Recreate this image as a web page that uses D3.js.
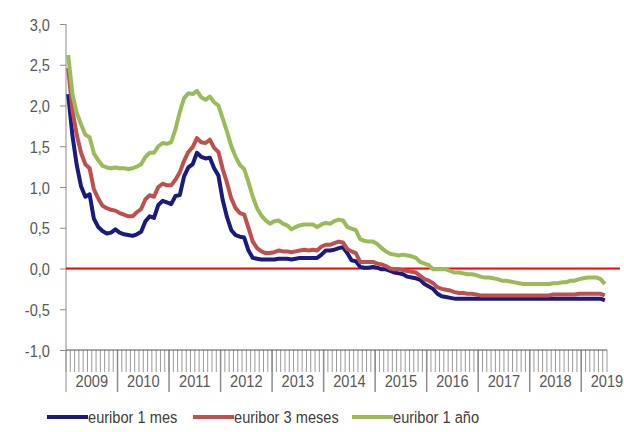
<!DOCTYPE html>
<html>
<head>
<meta charset="utf-8">
<script src="https://cdn.jsdelivr.net/npm/d3@7"></script>
<style>
  body { margin: 0; background: #fff; }
  text { font-family: "Liberation Sans", Arial, sans-serif; }
</style>
</head>
<body>
<svg id="svg" width="624" height="432"></svg>
<script>
// monthly averages, jan 2009 .. jun 2019
var years = [2009, 2010, 2011, 2012, 2013, 2014, 2015, 2016, 2017, 2018, 2019];
var yTicks = [-1, -0.5, 0, 0.5, 1, 1.5, 2, 2.5, 3];

var euribor1m = [
  2.14, 1.63, 1.27, 1.01, 0.88, 0.91, 0.61, 0.51, 0.46, 0.43, 0.44, 0.48,
  0.44, 0.42, 0.41, 0.40, 0.42, 0.45, 0.58, 0.64, 0.62, 0.78, 0.83, 0.81,
  0.79, 0.89, 0.90, 1.13, 1.24, 1.28, 1.42, 1.37, 1.35, 1.36, 1.23, 1.14,
  0.84, 0.63, 0.47, 0.41, 0.39, 0.38, 0.22, 0.13, 0.12, 0.11, 0.11, 0.11,
  0.11, 0.12, 0.12, 0.12, 0.11, 0.12, 0.13, 0.13, 0.13, 0.13, 0.13, 0.17,
  0.22, 0.22, 0.23, 0.25, 0.26, 0.19, 0.10, 0.09, 0.02, 0.01, 0.01, 0.02,
  0.01, -0.01, -0.01, -0.03, -0.05, -0.06, -0.07, -0.10, -0.11, -0.12, -0.14, -0.19,
  -0.22, -0.25, -0.31, -0.34, -0.35, -0.36, -0.37, -0.37, -0.37, -0.37, -0.37, -0.37,
  -0.37, -0.37, -0.37, -0.37, -0.37, -0.37, -0.37, -0.37, -0.37, -0.37, -0.37, -0.37,
  -0.37, -0.37, -0.37, -0.37, -0.37, -0.37, -0.37, -0.37, -0.37, -0.37, -0.37, -0.37,
  -0.37, -0.37, -0.37, -0.37, -0.37, -0.39
];

var euribor3m = [
  2.46, 1.94, 1.64, 1.42, 1.28, 1.23, 0.97, 0.86, 0.77, 0.74, 0.72, 0.71,
  0.68, 0.66, 0.64, 0.64, 0.69, 0.73, 0.85, 0.90, 0.88, 1.00, 1.04, 1.02,
  1.02, 1.09, 1.18, 1.32, 1.43, 1.49, 1.60, 1.55, 1.54, 1.58, 1.48, 1.43,
  1.22, 1.05, 0.86, 0.74, 0.68, 0.66, 0.50, 0.33, 0.25, 0.21, 0.19, 0.19,
  0.20, 0.22, 0.21, 0.21, 0.20, 0.21, 0.22, 0.23, 0.22, 0.23, 0.22, 0.27,
  0.29, 0.29, 0.31, 0.33, 0.32, 0.24, 0.21, 0.19, 0.08, 0.08, 0.08, 0.08,
  0.06, 0.05, 0.03, 0.00, -0.01, -0.01, -0.02, -0.03, -0.04, -0.05, -0.09, -0.13,
  -0.15, -0.18, -0.23, -0.25, -0.26, -0.27, -0.29, -0.30, -0.30, -0.31, -0.31, -0.32,
  -0.33, -0.33, -0.33, -0.33, -0.33, -0.33, -0.33, -0.33, -0.33, -0.33, -0.33, -0.33,
  -0.33, -0.33, -0.33, -0.33, -0.33, -0.32, -0.32, -0.32, -0.32, -0.32, -0.32, -0.31,
  -0.31, -0.31, -0.31, -0.31, -0.31, -0.33
];

var euribor12m = [
  2.62, 2.14, 1.91, 1.77, 1.64, 1.61, 1.41, 1.33, 1.26, 1.24, 1.23, 1.24,
  1.23, 1.23, 1.22, 1.23, 1.25, 1.28, 1.37, 1.42, 1.42, 1.50, 1.54, 1.53,
  1.55, 1.71, 1.92, 2.09, 2.15, 2.14, 2.18, 2.10, 2.07, 2.11, 2.04, 2.00,
  1.84, 1.68, 1.50, 1.37, 1.27, 1.22, 1.06, 0.88, 0.74, 0.65, 0.59, 0.55,
  0.58, 0.59, 0.55, 0.53, 0.48, 0.51, 0.53, 0.54, 0.54, 0.54, 0.51, 0.54,
  0.56, 0.55, 0.58, 0.60, 0.59, 0.51, 0.49, 0.47, 0.36, 0.34, 0.33, 0.33,
  0.30, 0.25, 0.21, 0.18, 0.17, 0.16, 0.17, 0.16, 0.15, 0.13, 0.08, 0.06,
  0.04, -0.01, -0.01, -0.01, -0.01, -0.03, -0.05, -0.05, -0.06, -0.07, -0.07, -0.08,
  -0.10, -0.11, -0.11, -0.12, -0.13, -0.15, -0.15, -0.16, -0.17, -0.18, -0.19, -0.19,
  -0.19, -0.19, -0.19, -0.19, -0.19, -0.18, -0.18, -0.17, -0.17, -0.15, -0.15, -0.13,
  -0.12, -0.11, -0.11, -0.11, -0.13, -0.19
];

var seriesNames = ["euribor 1 mes", "euribor 3 meses", "euribor 1 año"];
var seriesColors = ["#1a1a82", "#c0504d", "#9bbb59"];
var series = [euribor1m, euribor3m, euribor12m];

var nMonths = euribor1m.length;
var squeeze = 0.86; // the original font is a narrow one
var svg = d3.select("#svg");

var x = d3.scaleLinear()
  .domain([0, nMonths])
  .range([66, 607]);

var y = d3.scaleLinear()
  .domain([-1, 3])
  .range([350, 24]);

var fmt = v => d3.format(".1f")(v).replace(".", ",").replace("−", "-");

// put a text at (px,py), squeezed sideways
var place = function(sel, px, py) {
  sel.attr("x", 0).attr("y", 0)
    .attr("transform", (d, i) => "translate(" + px(d, i) + "," + py(d, i) + ") scale(" + squeeze + ",1)");
};

// y axis
var yAxis = svg.append("g")
    .attr("transform", "translate(66,0)")
    .call(d3.axisLeft(y).tickValues(yTicks).tickSize(6).tickFormat(fmt));
yAxis.select(".domain").remove();
yAxis.selectAll("line").attr("stroke", "#8c8c8c");
yAxis.selectAll("text")
    .attr("fill", "#5a5a5a")
    .attr("dy", null)
    .style("font-size", "17px")
    .call(place, () => -16, () => 6);
svg.append("line")
    .attr("x1", 66).attr("x2", 66)
    .attr("y1", y(3)).attr("y2", 392)
    .attr("stroke", "#8c8c8c");

// monthly ticks under the axis
svg.append("g")
  .selectAll("line")
  .data(d3.range(nMonths + 1))
  .join("line")
    .attr("x1", d => x(d)).attr("x2", d => x(d))
    .attr("y1", y(-1)).attr("y2", y(-1) + 22)
    .attr("stroke", "#9a9a9a");

// year separators + labels
svg.append("g")
  .selectAll("line")
  .data(years.slice(0, -1).map((d, i) => (i + 1) * 12))
  .join("line")
    .attr("x1", d => x(d)).attr("x2", d => x(d))
    .attr("y1", y(-1)).attr("y2", 392)
    .attr("stroke", "#8c8c8c")
    .attr("stroke-width", 1.5);

svg.append("g")
  .selectAll("text")
  .data(years)
  .join("text")
    .attr("text-anchor", "middle")
    .attr("fill", "#5a5a5a")
    .style("font-size", "17px")
    .text(d => d)
    .call(place, (d, i) => x(i * 12 + 6), () => 387);

svg.append("line")
    .attr("x1", x(0)).attr("x2", x(nMonths))
    .attr("y1", y(-1)).attr("y2", y(-1))
    .attr("stroke", "#555");

// zero line
svg.append("line")
    .attr("x1", x(0)).attr("x2", 620)
    .attr("y1", y(0)).attr("y2", y(0))
    .attr("stroke", "#ff0000")
    .attr("stroke-width", 2);

// series
var line = d3.line()
  .x((d, i) => x(i + 0.5))
  .y(d => y(d));

svg.append("g")
  .selectAll("path")
  .data(series)
  .join("path")
    .attr("fill", "none")
    .attr("stroke", (d, i) => seriesColors[i])
    .attr("stroke-width", 4)
    .attr("stroke-linejoin", "round")
    .attr("d", line);

// legend
var legendX = [47, 193, 352];
var legend = svg.append("g")
  .selectAll("g")
  .data(seriesNames)
  .join("g")
    .attr("transform", (d, i) => "translate(" + legendX[i] + ",417)");
legend.append("line")
    .attr("x1", 0).attr("x2", 41)
    .attr("stroke", (d, i) => seriesColors[i])
    .attr("stroke-width", 4);
legend.append("text")
    .attr("fill", "#404040")
    .style("font-size", "17px")
    .text(d => d)
    .call(place, () => 41, () => 6);
</script>
</body>
</html>
